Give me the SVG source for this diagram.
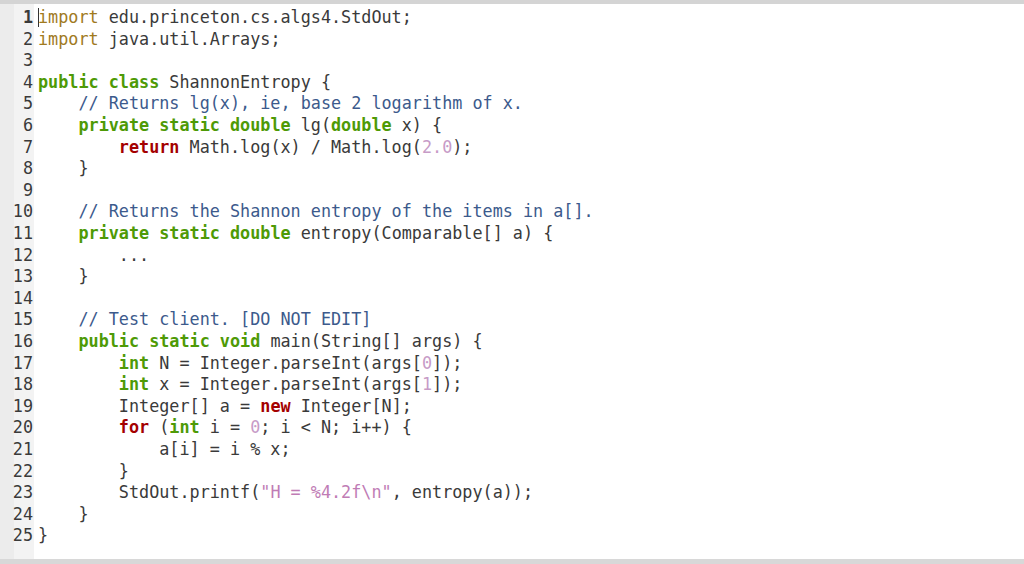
<svg xmlns="http://www.w3.org/2000/svg" width="1024" height="564" viewBox="0 0 1024 564">
<style>
text{font-family:"DejaVu Sans Mono","Liberation Mono",monospace;font-size:16.8px;fill:#3a3a3a;white-space:pre}
.ln{text-anchor:end;fill:#3a3a3a}
.im{fill:#a07a1e}
.kw{fill:#4e9a06;font-weight:bold}
.ty{fill:#4e9a06}
.rt{fill:#a40000;font-weight:bold}
.cm{fill:#3c5a8c}
.nu{fill:#c79bc7}
.st{fill:#c07cb5}
</style>
<rect width="1024" height="564" fill="#ffffff"/>
<rect x="0" y="0" width="1024" height="4" fill="#d4d4d4"/>
<rect x="0" y="559" width="1024" height="5" fill="#d8d8d8"/>
<rect x="0" y="4" width="14" height="555" fill="#ececec"/>
<rect x="14" y="4" width="20" height="555" fill="#f3f3f3"/>
<g id="code" xml:space="preserve">
<text class="ln" x="33" y="23" font-weight="bold">1</text>
<text class="ln" x="33" y="44.6">2</text>
<text class="ln" x="33" y="66.2">3</text>
<text class="ln" x="33" y="87.8">4</text>
<text class="ln" x="33" y="109.4">5</text>
<text class="ln" x="33" y="131">6</text>
<text class="ln" x="33" y="152.6">7</text>
<text class="ln" x="33" y="174.2">8</text>
<text class="ln" x="33" y="195.8">9</text>
<text class="ln" x="33" y="217.4">10</text>
<text class="ln" x="33" y="239">11</text>
<text class="ln" x="33" y="260.6">12</text>
<text class="ln" x="33" y="282.2">13</text>
<text class="ln" x="33" y="303.8">14</text>
<text class="ln" x="33" y="325.4">15</text>
<text class="ln" x="33" y="347">16</text>
<text class="ln" x="33" y="368.6">17</text>
<text class="ln" x="33" y="390.2">18</text>
<text class="ln" x="33" y="411.8">19</text>
<text class="ln" x="33" y="433.4">20</text>
<text class="ln" x="33" y="455">21</text>
<text class="ln" x="33" y="476.6">22</text>
<text class="ln" x="33" y="498.2">23</text>
<text class="ln" x="33" y="519.8">24</text>
<text class="ln" x="33" y="541.4">25</text>
<line x1="38.5" y1="8" x2="38.5" y2="27" stroke="#333" stroke-width="1"/>
<text x="38" y="23"><tspan class="im">import</tspan> edu.princeton.cs.algs4.StdOut;</text>
<text x="38" y="44.6"><tspan class="im">import</tspan> java.util.Arrays;</text>
<text x="38" y="87.8"><tspan class="kw">public class</tspan> ShannonEntropy {</text>
<text x="38" y="109.4" class="cm">    // Returns lg(x), ie, base 2 logarithm of x.</text>
<text x="38" y="131">    <tspan class="kw">private static double</tspan> lg(<tspan class="kw">double</tspan> x) {</text>
<text x="38" y="152.6">        <tspan class="rt">return</tspan> Math.log(x) / Math.log(<tspan class="nu">2.0</tspan>);</text>
<text x="38" y="174.2">    }</text>
<text x="38" y="217.4" class="cm">    // Returns the Shannon entropy of the items in a[].</text>
<text x="38" y="239">    <tspan class="kw">private static double</tspan> entropy(Comparable[] a) {</text>
<text x="38" y="260.6">        ...</text>
<text x="38" y="282.2">    }</text>
<text x="38" y="325.4" class="cm">    // Test client. [DO NOT EDIT]</text>
<text x="38" y="347">    <tspan class="kw">public static void</tspan> main(String[] args) {</text>
<text x="38" y="368.6">        <tspan class="kw">int</tspan> N = Integer.parseInt(args[<tspan class="nu">0</tspan>]);</text>
<text x="38" y="390.2">        <tspan class="kw">int</tspan> x = Integer.parseInt(args[<tspan class="nu">1</tspan>]);</text>
<text x="38" y="411.8">        Integer[] a = <tspan class="rt">new</tspan> Integer[N];</text>
<text x="38" y="433.4">        <tspan class="rt">for</tspan> (<tspan class="kw">int</tspan> i = <tspan class="nu">0</tspan>; i &lt; N; i++) {</text>
<text x="38" y="455">            a[i] = i % x;</text>
<text x="38" y="476.6">        }</text>
<text x="38" y="498.2">        StdOut.printf(<tspan class="st">"H = %4.2f\n"</tspan>, entropy(a));</text>
<text x="38" y="519.8">    }</text>
<text x="38" y="541.4">}</text>
</g>
</svg>
